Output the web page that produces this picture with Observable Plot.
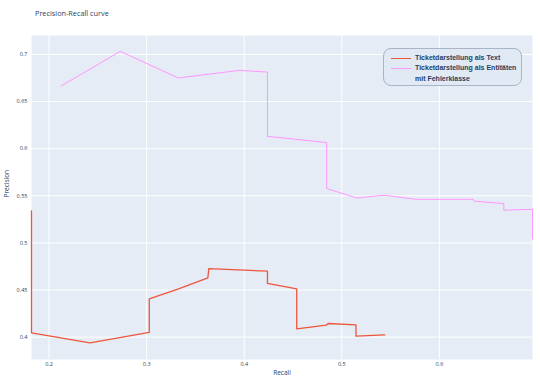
<!DOCTYPE html>
<html>
<head>
<meta charset="utf-8">
<script src="https://cdn.jsdelivr.net/npm/d3@7"></script>
<script src="https://cdn.jsdelivr.net/npm/@observablehq/plot@0.6"></script>
<style>
  body { margin: 0; background: #fff; font-family: "Open Sans", sans-serif; }
  #wrap { position: relative; width: 540px; height: 383px; }
  #title { height: 35px; position: relative; }
  #title span { position: absolute; left: 35px; top: 8px; font-size: 7.3px; color: #2a3f5f; }
  #legend { position: absolute; left: 383px; top: 48px; width: 139px; height: 38px; box-sizing: border-box;
    border: 1.3px solid #a8b5c6; border-radius: 8px; background: #e1e9f4; font-family: "Liberation Sans", Arial, sans-serif;
    font-weight: bold; font-size: 7px; color: #2a3f5f; }
  .sw { position: absolute; left: 7px; width: 20px; }
  .lt { position: absolute; left: 31px; white-space: nowrap; line-height: 10.5px; }
</style>
</head>
<body>
<div id="wrap">
  <div id="title"><span>Precision-Recall curve</span></div>
  <div id="chart"></div>
  <div id="legend"></div>
</div>
<script>
// Series names
const seriesNames = ["Ticketdarstellung als Text", "Ticketdarstellung als Entitäten mit Fehlerklasse"];
const seriesColors = ["#EF553B", "#FF97FF"];

// Series 1: Ticketdarstellung als Text
const textRecall    = [0.182, 0.182, 0.242, 0.3027, 0.3027, 0.332, 0.3627, 0.3637, 0.4238, 0.4238, 0.4538, 0.4538, 0.484, 0.486, 0.5145, 0.5145, 0.5439];
const textPrecision = [0.534, 0.4045, 0.394, 0.405, 0.4406, 0.451, 0.4629, 0.4728, 0.470, 0.457, 0.4512, 0.4088, 0.4127, 0.4145, 0.413, 0.401, 0.4024];

// Series 2: Ticketdarstellung als Entitäten mit Fehlerklasse
const entRecall    = [0.2123, 0.273, 0.3324, 0.3948, 0.4238, 0.4238, 0.4845, 0.4845, 0.5153, 0.5432, 0.5756, 0.6347, 0.6357, 0.666, 0.666, 0.6954, 0.6954];
const entPrecision = [0.6665, 0.7033, 0.675, 0.6831, 0.6813, 0.6131, 0.6065, 0.5577, 0.5477, 0.5506, 0.5463, 0.5463, 0.5443, 0.5418, 0.5347, 0.5357, 0.504];

// Axis ticks
const xTicks = [0.2, 0.3, 0.4, 0.5, 0.6];
const yTicks = [0.4, 0.45, 0.5, 0.55, 0.6, 0.65, 0.7];
const xDomain = [0.182, 0.6954];
const yDomain = [0.3763, 0.7201];

const textData = textRecall.map((r, i) => ({recall: r, precision: textPrecision[i], series: seriesNames[0]}));
const entData = entRecall.map((r, i) => ({recall: r, precision: entPrecision[i], series: seriesNames[1]}));

const chart = Plot.plot({
  width: 540,
  height: 348,
  marginTop: 0,
  marginLeft: 31,
  marginRight: 8,
  marginBottom: 24,
  style: { fontFamily: "Open Sans, sans-serif", color: "#2a3f5f", background: "transparent", overflow: "visible" },
  x: { domain: xDomain, ticks: xTicks, tickFormat: d => String(d) },
  y: { domain: yDomain, ticks: yTicks, tickFormat: d => String(d) },
  marks: [
    Plot.frame({ fill: "#E5ECF6", stroke: null }),
    Plot.gridX(xTicks, { stroke: "#fff", strokeOpacity: 1, strokeWidth: 1 }),
    Plot.gridY(yTicks, { stroke: "#fff", strokeOpacity: 1, strokeWidth: 1 }),
    Plot.axisX(xTicks, { tickSize: 0, tickPadding: 3, fontSize: 5.5, label: null, tickFormat: d => String(d) }),
    Plot.axisY(yTicks, { tickSize: 0, tickPadding: 4, fontSize: 5.5, label: null, tickFormat: d => String(d) }),
    Plot.line(entData, { x: "recall", y: "precision", stroke: seriesColors[1], strokeWidth: 1 }),
    Plot.line(textData, { x: "recall", y: "precision", stroke: seriesColors[0], strokeWidth: 1.3 }),
    Plot.text(["Recall"], { frameAnchor: "bottom", dy: 15, fontSize: 6.5, fill: "#2a3f5f" }),
    Plot.text(["Precision"], { frameAnchor: "left", dx: -25, rotate: -90, fontSize: 6.5, fill: "#2a3f5f" })
  ]
});
document.getElementById("chart").appendChild(chart);

// Legend
const legendEl = document.getElementById("legend");
const legendLines = [["Ticketdarstellung als Text"], ["Ticketdarstellung als Entitäten", "mit Fehlerklasse"]];
let rowTop = 3.5;
legendLines.forEach((lines, i) => {
  const sw = document.createElement("div");
  sw.className = "sw";
  sw.style.top = (rowTop + 5) + "px";
  sw.style.borderTop = (i === 0 ? 1.8 : 1.4) + "px solid " + seriesColors[i];
  legendEl.appendChild(sw);
  const t = document.createElement("div");
  t.className = "lt";
  t.style.top = rowTop + "px";
  t.innerHTML = lines.join("<br>");
  legendEl.appendChild(t);
  rowTop += 10.5 * lines.length;
});
</script>
</body>
</html>
